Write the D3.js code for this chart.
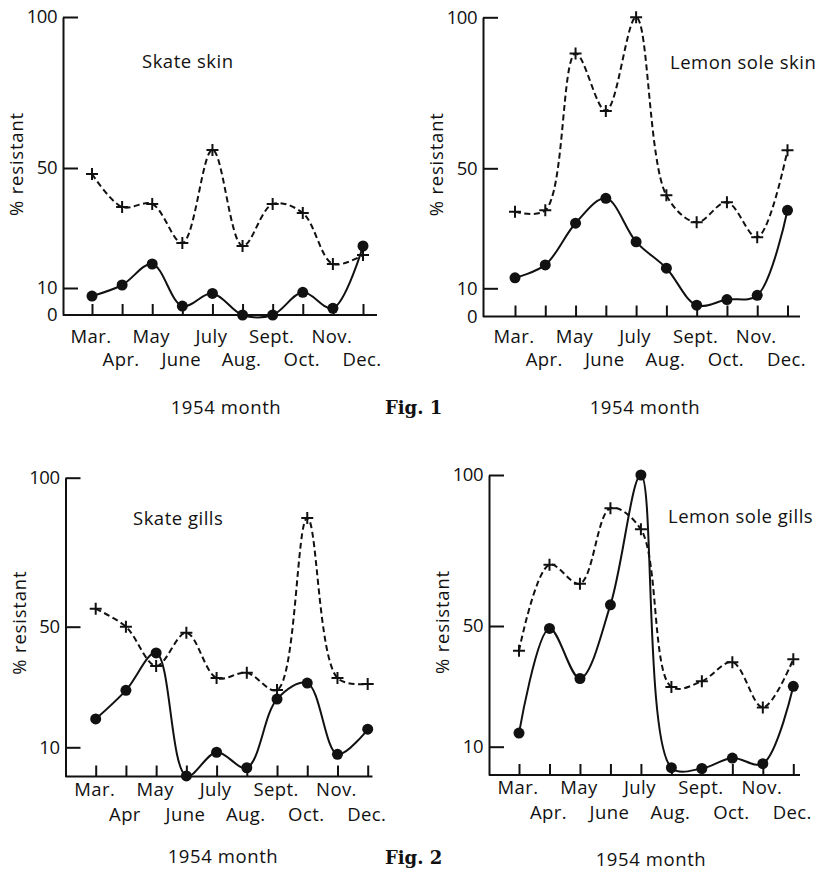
<!DOCTYPE html>
<html>
<head>
<meta charset="utf-8">
<script src="https://cdn.jsdelivr.net/npm/d3@7"></script>
<style>
  body { margin: 0; background: #fff; }
  svg { display: block; }
  text { font-family: "Open Sans", sans-serif; fill: #111; }
  .fig { font-family: "DejaVu Serif", serif; font-weight: bold; }
</style>
</head>
<body>
<div id="chart"></div>
<script>
// month names (two rows under each axis)
var months = ["Mar.", "Apr.", "May", "June", "July", "Aug.", "Sept.", "Oct.", "Nov.", "Dec."];
var monthsSkateGills = ["Mar.", "Apr", "May", "June", "July", "Aug.", "Sept.", "Oct.", "Nov.", "Dec."];

var ticksTop = [0, 10, 50, 100];
var ticksBottom = [10, 50, 100];

// % resistant, + = dashed series, dot = solid series
var skateSkinPlus = [48, 37, 38, 25, 56, 24, 38, 35, 18, 21];
var skateSkinDot = [7, 11, 18, 3.3, 8, 0, 0, 8.4, 2.5, 24];

var lemonSkinPlus = [35.5, 36, 88, 69, 100, 41, 32, 38.7, 27, 56];
var lemonSkinDot = [13.5, 17.8, 31.7, 40, 25.5, 16.7, 4, 6, 7.5, 36];

var skateGillsPlus = [56, 50, 37, 48, 33, 34.7, 29, 86.5, 33, 31];
var skateGillsDot = [19.4, 28.9, 41.3, 0.2, 8.3, 3, 26, 31.3, 7.6, 16];

var lemonGillsPlus = [41.8, 70.3, 64, 89, 82, 29.8, 31.7, 38, 23, 39];
var lemonGillsDot = [14.5, 49.2, 32.6, 57, 100, 2.6, 2.3, 6, 4, 30];

var width = 827, height = 873;

var svg = d3.select("#chart").append("svg")
    .attr("width", width)
    .attr("height", height);

// layout of the four panels
var panels = [
    { title: "Skate skin", labels: months, plus: skateSkinPlus, dot: skateSkinDot, ticks: ticksTop,
      ax: 63, right: 377, y0: 315, y10: 288, y50: 168, y100: 17, xMar: 92, xDec: 363,
      row1: 337, row2: 360, tx: 142, ty: 62, mx: 226, my: 408 },
    { title: "Lemon sole skin", labels: months, plus: lemonSkinPlus, dot: lemonSkinDot, ticks: ticksTop,
      ax: 483, right: 800, y0: 316.5, y10: 288.3, y50: 168.3, y100: 17.3, xMar: 515, xDec: 787.5,
      row1: 337, row2: 360, tx: 670, ty: 63, mx: 645, my: 408 },
    { title: "Skate gills", labels: monthsSkateGills, plus: skateGillsPlus, dot: skateGillsDot, ticks: ticksBottom,
      ax: 65.5, right: 372.5, y0: 776.5, y10: 747.3, y50: 626.7, y100: 477.7, xMar: 95.7, xDec: 367.7,
      row1: 790, row2: 815, tx: 133, ty: 519, mx: 223, my: 857 },
    { title: "Lemon sole gills", labels: months, plus: lemonGillsPlus, dot: lemonGillsDot, ticks: ticksBottom,
      ax: 489, right: 800, y0: 775, y10: 746.7, y50: 626, y100: 475, xMar: 519, xDec: 793.3,
      row1: 788, row2: 813, tx: 668, ty: 517, mx: 651, my: 860 }
];

panels.forEach(function (p) {
    var g = svg.append("g");

    var x = d3.scalePoint().domain(d3.range(months.length)).range([p.xMar, p.xDec]);
    var y = d3.scaleLinear().domain([0, 10, 50, 100]).range([p.y0, p.y10, p.y50, p.y100]);

    // y axis, ticks pointing inward
    var yAxis = g.append("g")
        .attr("transform", "translate(" + p.ax + ",0)")
        .call(d3.axisLeft(y).tickValues(p.ticks).tickSizeInner(-15).tickSizeOuter(0).tickPadding(6));
    yAxis.select(".domain").attr("stroke", "#111").attr("stroke-width", 2);
    yAxis.selectAll(".tick line").attr("stroke", "#111").attr("stroke-width", 2)
        .filter(function (d) { return d === 0; }).remove();
    yAxis.selectAll(".tick text")
        .style("font-family", "'Open Sans', sans-serif")
        .style("font-size", "18.5px")
        .style("letter-spacing", "-0.5px")
        .attr("fill", "#111");

    // x axis: month ticks upward
    var xAxis = g.append("g")
        .attr("transform", "translate(0," + p.y0 + ")")
        .call(d3.axisBottom(x).tickSizeInner(-11).tickSizeOuter(0).tickFormat(""));
    xAxis.select(".domain").remove();
    xAxis.selectAll(".tick line").attr("stroke", "#111").attr("stroke-width", 2);

    g.append("line")
        .attr("x1", p.ax).attr("x2", p.right)
        .attr("y1", p.y0).attr("y2", p.y0)
        .attr("stroke", "#111").attr("stroke-width", 2);

    g.selectAll(".month")
        .data(p.labels)
        .enter().append("text")
        .attr("class", "month")
        .attr("x", function (d, i) { return x(i) - 1; })
        .attr("y", function (d, i) { return i % 2 === 0 ? p.row1 : p.row2; })
        .attr("dy", "0.35em")
        .attr("text-anchor", "middle")
        .style("font-size", "18.5px")
        .style("letter-spacing", "0.4px")
        .text(function (d) { return d; });

    var line = d3.line()
        .x(function (d, i) { return x(i); })
        .y(function (d) { return y(d); })
        .curve(d3.curveCatmullRom.alpha(0.5));

    g.append("path")
        .datum(p.plus)
        .attr("d", line)
        .attr("fill", "none")
        .attr("stroke", "#111")
        .attr("stroke-width", 2)
        .attr("stroke-dasharray", "6,3.5");

    g.append("path")
        .datum(p.dot)
        .attr("d", line)
        .attr("fill", "none")
        .attr("stroke", "#111")
        .attr("stroke-width", 2);

    // + markers
    g.selectAll(".plus")
        .data(p.plus)
        .enter().append("path")
        .attr("class", "plus")
        .attr("d", function (d, i) {
            var cx = x(i), cy = y(d);
            return "M" + (cx - 6) + "," + cy + "H" + (cx + 6) + "M" + cx + "," + (cy - 6) + "V" + (cy + 6);
        })
        .attr("stroke", "#111")
        .attr("stroke-width", 2);

    // dot markers
    g.selectAll(".dot")
        .data(p.dot)
        .enter().append("circle")
        .attr("class", "dot")
        .attr("cx", function (d, i) { return x(i); })
        .attr("cy", function (d) { return y(d); })
        .attr("r", 5.5)
        .attr("fill", "#111");

    g.append("text")
        .attr("x", p.tx).attr("y", p.ty)
        .attr("dy", "0.35em")
        .style("font-size", "18.5px")
        .style("letter-spacing", "0.5px")
        .text(p.title);

    g.append("text")
        .attr("transform", "translate(" + (p.ax - 46) + "," + (p.y50 - 4) + ") rotate(-90)")
        .attr("text-anchor", "middle")
        .attr("dy", "0.35em")
        .style("font-size", "18.5px")
        .style("letter-spacing", "0.8px")
        .text("% resistant");

    g.append("text")
        .attr("x", p.mx).attr("y", p.my)
        .attr("text-anchor", "middle")
        .attr("dy", "0.35em")
        .style("font-size", "18.5px")
        .style("letter-spacing", "0.6px")
        .text("1954 month");
});

svg.append("text").attr("class", "fig")
    .attr("x", 385).attr("y", 408).attr("dy", "0.35em")
    .style("font-size", "18px")
    .text("Fig. 1");

svg.append("text").attr("class", "fig")
    .attr("x", 385).attr("y", 858).attr("dy", "0.35em")
    .style("font-size", "18px")
    .text("Fig. 2");
</script>
</body>
</html>
